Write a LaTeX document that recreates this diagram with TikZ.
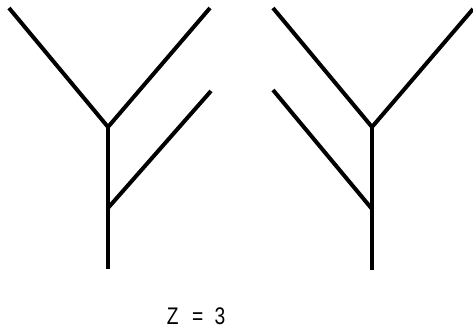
\documentclass[tikz,border=0pt]{standalone}
\usepackage{fontspec}
\setmainfont{Liberation Sans}
\usepackage{tikz}
\usetikzlibrary{positioning}

\begin{document}
\begin{tikzpicture}[
  x=1pt, y=1pt,
  branch/.style={line width=4pt, line join=miter},
  label/.style={font=\fontsize{24}{26}\selectfont, inner sep=0pt, xscale=0.8},
]
\useasboundingbox (0,0) rectangle (473,332);
% left tree
\coordinate (lbase) at (108,63);
\coordinate (llow)  at (108,124);
\coordinate (ltop)  at (108,205);
\coordinate (lleft) at (9,324);
\coordinate (lright) at (210,324);
\coordinate (lside) at (211,241);
\draw[branch] (lbase) -- (ltop);
\draw[branch] (lleft) -- (ltop) -- (lright);
\draw[branch] (llow) -- (lside);
% right tree
\coordinate (rbase) at (372,62);
\coordinate (rlow)  at (372,123);
\coordinate (rtop)  at (372,205);
\coordinate (rleft) at (273,324);
\coordinate (rright) at (473,323);
\coordinate (rside) at (273,242);
\draw[branch] (rbase) -- (rtop);
\draw[branch] (rleft) -- (rtop) -- (rright);
\draw[branch] (rlow) -- (rside);
% count
\node[label] (count) at (196,16) {Z\hspace{17pt}=\hspace{14pt}3};
\end{tikzpicture}
\end{document}
